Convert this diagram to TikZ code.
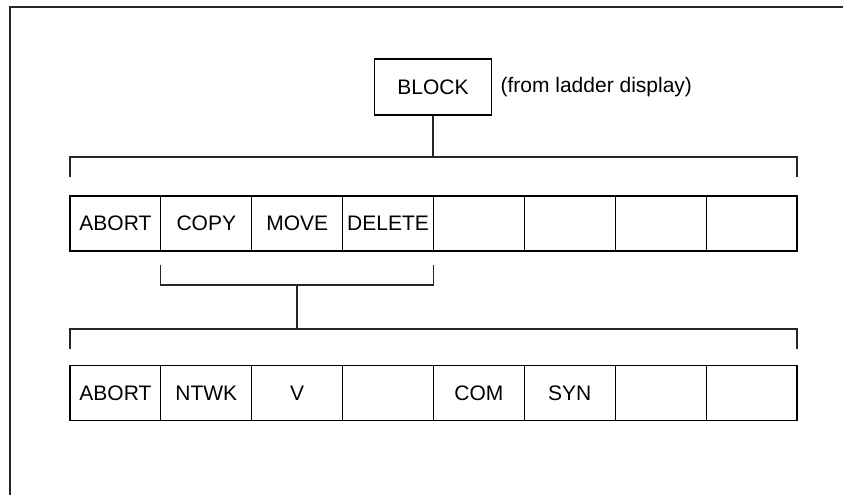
\documentclass[tikz,border=0pt]{standalone}
\usepackage{fontspec}
\setmainfont{Liberation Sans}
\usetikzlibrary{positioning}

\tikzset{
  key/.style={draw, minimum width=45.44pt, minimum height=27.5pt, inner sep=0pt, outer sep=0pt},
  wire/.style={line width=0.55pt, black!85}
}

\begin{document}
\begin{tikzpicture}[x=0.5pt, y=-0.5pt, line width=0.55pt, font=\fontsize{10.5}{12}\selectfont]
    \useasboundingbox (0,0) rectangle (843,495);

    % Keret
    \draw[wire] (10,495) -- (10,7) -- (843,7);

    % Felso gomb
    \node[draw, minimum width=58.5pt, minimum height=28pt, inner sep=0pt] (block) at (433,87) {BLOCK};
    \node[right=4pt of block, inner sep=0pt] (note) {(from ladder display)};

    \def\cw{90.875} % egy gomb szelessege

    % Elso sor
    \foreach \lbl [count=\i] in {ABORT,COPY,MOVE,DELETE,{},{},{},{}}
        \node[key] (top\i) at ({70+\cw*(\i-0.5)},223.5) {\lbl};

    % Masodik sor
    \foreach \lbl [count=\i] in {ABORT,NTWK,V,{},COM,SYN,{},{}}
        \node[key] (bot\i) at ({70+\cw*(\i-0.5)},393) {\lbl};

    % Zarojelek
    \coordinate (brA) at (433,157);
    \coordinate (brB) at (297,285);
    \coordinate (brC) at (297,329);

    \draw[wire] (block) -- (brA);
    \draw[wire] ([yshift=9.5pt]top1.north west) |- (brA) -| ([yshift=9.5pt]top8.north east);

    \draw[wire] ([yshift=-7pt]top2.south west) |- (brB) -| ([yshift=-7pt]top4.south east);
    \draw[wire] (brB) -- (brC);
    \draw[wire] ([yshift=8.5pt]bot1.north west) |- (brC) -| ([yshift=8.5pt]bot8.north east);
\end{tikzpicture}
\end{document}
